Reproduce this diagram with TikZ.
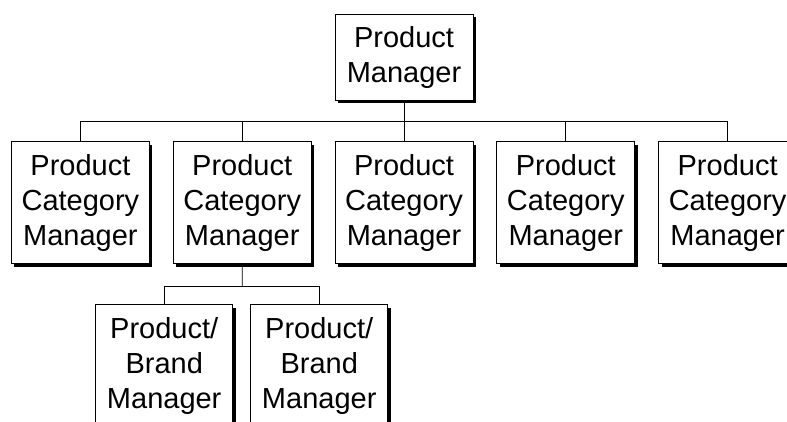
\documentclass[tikz,border=0pt]{standalone}
\usepackage{fontspec}
\setmainfont{Liberation Sans}
\usetikzlibrary{positioning,shadows,calc}
\tikzstyle{mgr box}=[
    draw = black,
    line width = 0.8pt,
    fill = white,
    rectangle,
    align = center,
    inner sep = 0pt,
    minimum width = 138pt,
    font = \fontsize{29}{35}\selectfont,
    drop shadow = {shadow xshift = 3pt, shadow yshift = -3pt, fill = black, opacity = 1}
]

\begin{document}
\begin{tikzpicture}[node distance={23pt}, line width=0.8pt, cat/.style = {mgr box, minimum height = 122pt}, brand/.style = {mgr box, minimum width = 137pt, minimum height = 122pt}]
        \useasboundingbox (0,0) rectangle (787pt,-421pt);

        \node[mgr box, minimum height = 86pt] (pm) at (404pt,-57pt) {Product\\Manager};
        \node[cat] (pcm3) [below = 41pt of pm] {Product\\Category\\Manager};
        \node[cat] (pcm2) [left = of pcm3] {Product\\Category\\Manager};
        \node[cat] (pcm1) [left = of pcm2] {Product\\Category\\Manager};
        \node[cat] (pcm4) [right = of pcm3] {Product\\Category\\Manager};
        \node[cat] (pcm5) [right = of pcm4] {Product\\Category\\Manager};
        \node[brand] (pbm1) [below = 40pt of pcm2, xshift = -78pt] {Product/\\Brand\\Manager};
        \node[brand] (pbm2) [below = 40pt of pcm2, xshift = 77pt] {Product/\\Brand\\Manager};

        \coordinate (bus) at ($(pm.south)!0.52!(pcm3.north)$);
        \coordinate (sub) at ($(pcm2.south)!0.55!(pcm2.south |- pbm1.north)$);

        \draw[-] (pm.south) -- (bus);
        \draw[-] (pcm1.north) |- (bus) -| (pcm5.north);
        \foreach \n in {2,3,4}
            \draw[-] (pcm\n.north) -- (pcm\n.north |- bus);
        \draw[-] (pcm2.south) -- (sub);
        \draw[-] (pbm1.north) |- (sub) -| (pbm2.north);

    \end{tikzpicture}
\end{document}
